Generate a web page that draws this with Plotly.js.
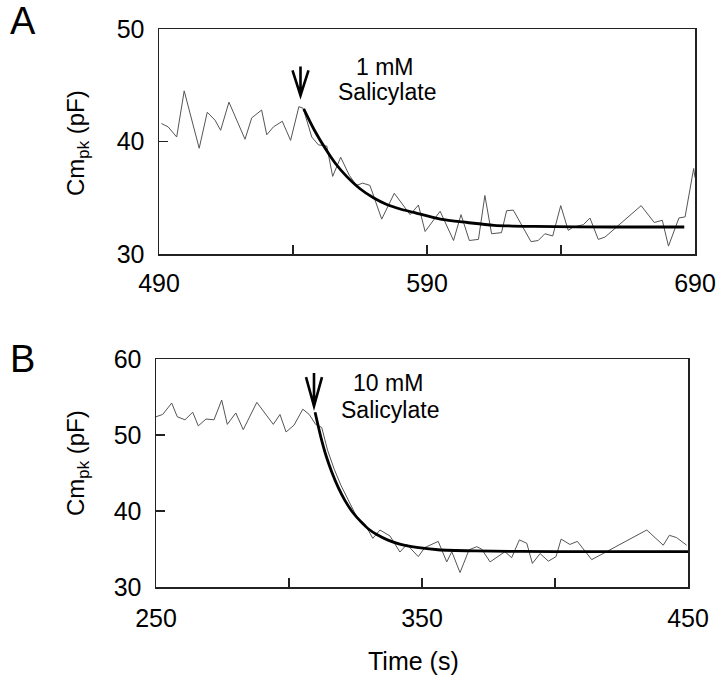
<!DOCTYPE html>
<html>
<head>
<meta charset="utf-8">
<script src="https://cdn.plot.ly/plotly-3.0.1.min.js"></script>
<style>html,body{margin:0;padding:0;background:#fff}#chart{width:720px;height:684px}</style>
</head>
<body>
<div id="chart"></div>
<script>
// Panel A: 1 mM salicylate
const timeA = [490.9,493.4,496.6,499.4,505.0,508.0,510.9,513.0,516.1,519.0,522.1,524.6,528.3,530.2,532.7,536.0,539.1,542.2,543.8,547.0,549.5,552.6,554.8,557.8,561.0,563.7,566.0,568.7,573.1,577.8,583.7,586.8,589.3,594.9,599.9,602.7,605.8,609.2,611.6,614.1,617.8,619.7,622.2,628.8,631.5,634.0,636.9,639.9,642.7,644.6,648.3,650.8,653.9,656.4,669.9,674.8,677.8,680.1,684.0,686.3,689.5,690.0];
const cmA   = [41.6,41.3,40.4,44.5,39.4,42.6,41.9,41.0,43.5,41.9,40.2,42.1,42.8,40.6,41.3,41.8,40.1,43.1,42.95,40.4,39.7,39.6,36.9,38.6,37.0,36.1,36.3,36.1,33.1,35.4,33.5,34.35,32.0,33.8,31.2,33.5,31.2,31.3,35.2,31.8,31.9,33.85,33.9,31.1,31.2,31.8,31.6,34.3,32.1,32.4,32.6,33.2,31.3,31.5,34.3,32.8,33.0,30.7,33.2,33.3,37.6,36.8];
const fitTimeA = [544,548,552,556,560,565,570,575,580,585,595,605,615,630,660,686];
const fitA     = [42.9,41.0,39.4,38.0,36.9,35.8,35.0,34.4,34.0,33.7,33.1,32.8,32.55,32.45,32.4,32.4];

// Panel B: 10 mM salicylate
const timeB = [250.0,252.5,255.9,258.0,260.9,263.8,265.9,268.8,271.8,274.7,276.8,280.0,282.8,287.9,294.1,296.6,298.9,301.9,305.2,307.6,310.0,312.3,314.5,317.0,319.5,322.3,325.5,328.5,331.5,334.2,338.0,341.7,344.3,348.6,351.1,356.1,359.3,361.2,364.3,367.7,370.6,372.4,375.6,381.2,383.7,386.6,389.4,391.5,394.4,397.5,400.4,402.3,405.6,408.4,413.8,434.5,440.7,443.0,445.7,449.5];
const cmB   = [52.4,52.7,54.2,52.4,52.0,53.0,51.2,52.1,52.0,54.6,51.4,52.9,50.7,54.3,51.4,52.7,50.4,51.3,53.4,52.7,51.4,51.0,48.0,45.5,43.4,41.4,39.2,38.3,36.4,37.5,36.7,34.6,35.6,34.0,35.2,36.0,33.3,34.65,31.9,34.9,35.3,35.0,33.3,34.65,33.85,36.2,35.75,33.1,34.4,33.4,34.0,36.3,35.6,36.0,33.6,37.5,35.5,36.8,36.5,35.5];
const fitTimeB = [309.8,312,314,316,318.5,321,324,327,330,333,337,342,348,356,370,400,450];
const fitB     = [53.0,49.7,47.2,45.2,43.1,41.4,39.8,38.6,37.6,36.9,36.2,35.6,35.2,34.9,34.75,34.65,34.65];

// Application times (arrow tips)
const addTimeA = 542.8, addLevelA = 44.1;
const addTimeB = 309.4, addLevelB = 53.8;

// Tick settings (labelled major ticks, unlabelled minor ticks)
const xStartA = 490, xStepA = 100, xMinorA = 50;
const xStartB = 250, xStepB = 100, xMinorB = 50;
const yTickA = [30,40,50];
const yTickB = [30,40,50,60];

const FONT = 'Liberation Sans, Arial, Helvetica, sans-serif';
const rawStyle = {color:'#555', width:1};
const fitStyle = {color:'#000', width:2.8, shape:'spline', smoothing:0.8};

const traces = [
  {x:timeA, y:cmA, xaxis:'x', yaxis:'y', mode:'lines', line:rawStyle, hoverinfo:'skip'},
  {x:fitTimeA, y:fitA, xaxis:'x', yaxis:'y', mode:'lines', line:fitStyle, hoverinfo:'skip'},
  {x:timeB, y:cmB, xaxis:'x2', yaxis:'y2', mode:'lines', line:rawStyle, hoverinfo:'skip'},
  {x:fitTimeB, y:fitB, xaxis:'x2', yaxis:'y2', mode:'lines', line:fitStyle, hoverinfo:'skip'}
];

function axisBase(){
  return {showline:true, mirror:true, linecolor:'#222', linewidth:1.5, showgrid:false, zeroline:false,
    ticks:'inside', ticklen:9, tickwidth:1.3, tickcolor:'#222', fixedrange:true,
    tickfont:{family:FONT, size:25, color:'#000'}};
}
const minorX = {ticks:'inside', ticklen:9, tickwidth:1.3, tickcolor:'#222', showgrid:false};
const xa = Object.assign(axisBase(), {domain:[159/720, 695/720], range:[490,690], anchor:'y', tickmode:'linear', tick0:xStartA, dtick:xStepA, minor:Object.assign({dtick:xMinorA, tick0:xStartA}, minorX), ticklabelstandoff:6});
const ya = Object.assign(axisBase(), {domain:[(684-254)/684, (684-29)/684], range:[30,50], anchor:'x', tickmode:'array', tickvals:yTickA, ticklabelstandoff:8});
const xb = Object.assign(axisBase(), {domain:[156/720, 688/720], range:[250,450], anchor:'y2', tickmode:'linear', tick0:xStartB, dtick:xStepB, minor:Object.assign({dtick:xMinorB, tick0:xStartB}, minorX), ticklabelstandoff:8});
const yb = Object.assign(axisBase(), {domain:[(684-587)/684, (684-359)/684], range:[30,60], anchor:'x2', tickmode:'array', tickvals:yTickB, ticklabelstandoff:8});

function txt(text, x, y, size){
  return {text:text, xref:'paper', yref:'paper', x:x, y:y, xanchor:'center', yanchor:'middle', showarrow:false,
    font:{family:FONT, size:size, color:'#000'}};
}
const annotations = [
  txt('A', 23/720, (684-21)/684, 38),
  txt('B', 22/720, (684-359)/684, 38),
  Object.assign(txt('Cm<sub>pk</sub> (pF)', 78/720, (684-143)/684, 24), {textangle:-90}),
  Object.assign(txt('Cm<sub>pk</sub> (pF)', 78/720, (684-463)/684, 24), {textangle:-90}),
  txt('Time (s)', 413/720, (684-661)/684, 25),
  txt('1 mM', 385/720, (684-67)/684, 23),
  txt('Salicylate', 387/720, (684-92)/684, 23),
  txt('10 mM', 388/720, (684-383)/684, 23),
  txt('Salicylate', 390/720, (684-410)/684, 23)
];

function arrowShape(xr, yr, xt, yt, len){
  return {type:'path', xref:xr, yref:yr, xsizemode:'pixel', ysizemode:'pixel', xanchor:xt, yanchor:yt,
    path:'M0,0 L0,' + len + ' M-8,' + (len-4) + ' L0,0 L8,' + (len-4),
    line:{color:'#000', width:2.6}};
}
const shapes = [
  arrowShape('x', 'y', addTimeA, addLevelA, 29),
  arrowShape('x2', 'y2', addTimeB, addLevelB, 33)
];

const layout = {
  width:720, height:684, margin:{l:0,r:0,t:0,b:0}, paper_bgcolor:'#fff', plot_bgcolor:'#fff',
  showlegend:false, xaxis:xa, yaxis:ya, xaxis2:xb, yaxis2:yb, annotations:annotations, shapes:shapes,
  font:{family:FONT, color:'#000'}
};
Plotly.newPlot('chart', traces, layout, {staticPlot:true, displayModeBar:false});
</script>
</body>
</html>
